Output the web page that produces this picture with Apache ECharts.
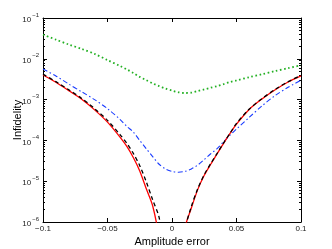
<!DOCTYPE html>
<html>
<head>
<meta charset="utf-8">
<script src="https://cdn.jsdelivr.net/npm/echarts@6/dist/echarts.min.js"></script>
<style>
html,body{margin:0;padding:0;background:#fff;}
#c{width:332px;height:249px;}
</style>
</head>
<body>
<div id="c"></div>
<script>
// Amplitude error values (x)
const amplitudeError = [-0.1,-0.09,-0.08,-0.07,-0.06,-0.05,-0.04,-0.035,-0.03,-0.025,-0.02,-0.015,-0.01,-0.005,0,0.005,0.01,0.015,0.02,0.025,0.03,0.035,0.04,0.045,0.05,0.06,0.07,0.08,0.09,0.1];
// Infidelity, red solid
const redSolid = [4.0e-3,2.66e-3,1.66e-3,1.02e-3,5.6e-4,2.8e-4,1.17e-4,7.1e-5,3.8e-5,1.78e-5,6.6e-6,2.5e-6,4e-7,2e-8,1e-9,1.6e-8,7e-7,2.2e-6,6.3e-6,1.4e-5,2.6e-5,4.7e-5,8.5e-5,1.48e-4,2.5e-4,5.8e-4,1.05e-3,1.74e-3,2.7e-3,3.8e-3];
// Infidelity, black dashed
const blackDashed = [4.2e-3,2.75e-3,1.74e-3,1.07e-3,6.0e-4,3.1e-4,1.35e-4,8.5e-5,4.8e-5,2.4e-5,9.8e-6,3.5e-6,1.3e-6,1.3e-7,3e-9,2.5e-8,6.3e-7,2.4e-6,6.6e-6,1.45e-5,2.7e-5,4.8e-5,8.7e-5,1.5e-4,2.6e-4,5.9e-4,1.07e-3,1.78e-3,2.75e-3,3.9e-3];
// Infidelity, blue dash-dot
const blueDashDot = [5.6e-3,3.8e-3,2.4e-3,1.55e-3,1.0e-3,6.0e-4,3.2e-4,2.2e-4,1.6e-4,1.0e-4,6.3e-5,4.0e-5,2.6e-5,2.0e-5,1.74e-5,1.66e-5,1.74e-5,2.0e-5,2.5e-5,3.4e-5,4.7e-5,6.3e-5,9.3e-5,1.35e-4,1.9e-4,3.7e-4,7.1e-4,1.26e-3,2.0e-3,3.0e-3];
// Infidelity, green dotted
const greenDotted = [3.9e-2,2.95e-2,2.24e-2,1.74e-2,1.32e-2,9.3e-3,6.6e-3,5.5e-3,4.5e-3,3.6e-3,3.0e-3,2.5e-3,2.14e-3,1.86e-3,1.66e-3,1.51e-3,1.45e-3,1.48e-3,1.62e-3,1.78e-3,1.95e-3,2.14e-3,2.4e-3,2.7e-3,2.95e-3,3.55e-3,4.2e-3,5.0e-3,5.9e-3,6.9e-3];
// Tick values
const xTicks = [-0.1,-0.05,0,0.05,0.1];
const yExponents = [-6,-5,-4,-3,-2,-1];

const FONT = 'Liberation Sans, Arial, sans-serif';
const pair = arr => amplitudeError.map((x,i)=>[x,arr[i]]);

const chart = echarts.init(document.getElementById('c'), null, {renderer:'canvas'});
const axisLine = {show:true, onZero:false, lineStyle:{color:'#000', width:1}};
const tickIn = {show:true, inside:true, length:4, lineStyle:{color:'#000'}};
chart.setOption({
  animation:false,
  backgroundColor:'#fff',
  grid:{left:43, right:31, top:18, bottom:27, outerBoundsMode:'none', containLabel:false},
  xAxis:[{
    type:'value', min:xTicks[0], max:xTicks[xTicks.length-1], interval:0.05,
    axisLine:axisLine, axisTick:tickIn, splitLine:{show:false},
    axisLabel:{fontSize:8, color:'#222', fontFamily:FONT, margin:3,
      formatter:v=>String(v).replace('-', '\u2212')},
    name:'Amplitude error', nameLocation:'middle', nameGap:14, nameMoveOverlap:false,
    nameTextStyle:{fontSize:11, color:'#000', fontFamily:FONT}
  },{
    type:'value', position:'top', min:xTicks[0], max:xTicks[xTicks.length-1], interval:0.05,
    axisLine:axisLine, axisTick:tickIn, axisLabel:{show:false}, splitLine:{show:false}
  }],
  yAxis:[{
    type:'log', logBase:10, min:Math.pow(10,yExponents[0]), max:Math.pow(10,yExponents[yExponents.length-1]),
    axisLine:axisLine, axisTick:tickIn, splitLine:{show:false},
    minorTick:{show:true, splitNumber:9, length:2, lineStyle:{color:'#000'}},
    axisLabel:{fontFamily:FONT, color:'#222', margin:4,
      formatter:v=>'{b|10}{s|' + Math.round(Math.log10(v)).toString().replace('-','\u2212') + '}',
      rich:{b:{fontSize:8, fontFamily:FONT, color:'#222', lineHeight:12, verticalAlign:'bottom'},
            s:{fontSize:6, fontFamily:FONT, color:'#222', lineHeight:12, verticalAlign:'top', padding:[0,0,0,1]}}},
    name:'Infidelity', nameLocation:'middle', nameGap:20, nameMoveOverlap:false,
    nameTextStyle:{fontSize:11, color:'#000', fontFamily:FONT}
  },{
    type:'log', logBase:10, position:'right', min:Math.pow(10,yExponents[0]), max:Math.pow(10,yExponents[yExponents.length-1]),
    axisLine:axisLine, axisTick:tickIn, axisLabel:{show:false}, splitLine:{show:false},
    minorTick:{show:true, splitNumber:9, length:2, lineStyle:{color:'#000'}}
  }],
  series:[
    {type:'line', data:pair(greenDotted), smooth:0.3, symbol:'none', clip:true,
      lineStyle:{color:'#22b022', width:1.8, type:[1.6,2.6]}},
    {type:'line', data:pair(blueDashDot), smooth:0.3, symbol:'none', clip:true,
      lineStyle:{color:'#1a3cff', width:1.1, type:[5,2.5,1.5,2.5]}},
    {type:'line', data:pair(redSolid), smooth:0.3, symbol:'none', clip:true,
      lineStyle:{color:'#ff0000', width:1.3, type:'solid'}},
    {type:'line', data:pair(blackDashed), smooth:0.3, symbol:'none', clip:true,
      lineStyle:{color:'#000', width:1.3, type:[4,3]}}
  ]
});
</script>
</body>
</html>
